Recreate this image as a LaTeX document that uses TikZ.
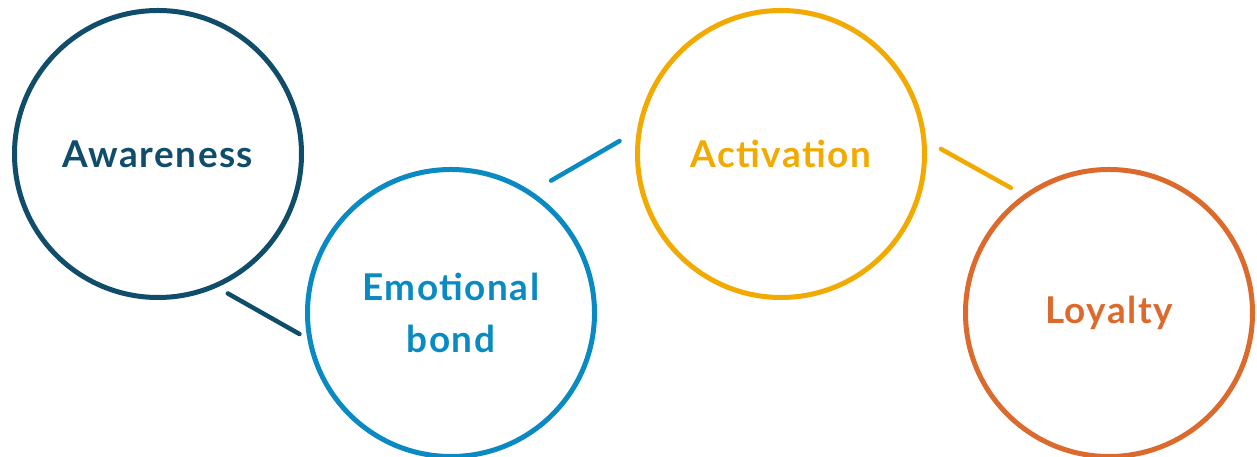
\documentclass[tikz,border=0pt]{standalone}
\usepackage{fontspec}
\setmainfont{Lato}[LetterSpace=4]
\usetikzlibrary{calc}
\definecolor{stAware}{HTML}{0F4D6B}
\definecolor{stBond}{HTML}{0A8AC2}
\definecolor{stActive}{HTML}{F2AA00}
\definecolor{stLoyal}{HTML}{DB6A2C}
\tikzset{
  stage/.style = {circle, draw=#1, text=#1, line width=1mm,
                  minimum size=57.4mm, inner sep=0pt, align=center,
                  font=\fontsize{21}{30}\selectfont\bfseries},
  link/.style  = {#1, line width=0.9mm, line cap=round},
}

\begin{document}
\begin{tikzpicture}[x=0.2mm, y=0.2mm]
  \useasboundingbox (0,0) rectangle (1257,457);

  % the four stages, zig-zagging up and down
  \node[stage=stAware]  (aware)  at (158,303)  {Awareness};
  \node[stage=stBond]   (bond)   at (451,144)  {Emotional\\bond};
  \node[stage=stActive] (active) at (781,303)  {Activation};
  \node[stage=stLoyal]  (loyal)  at (1109,144) {Loyalty};

  % short links in the gaps between neighbouring circles
  \draw[link=stAware]  ($(aware)+(-63.4:156)$) -- ($(bond)+(187.9:153)$);
  \draw[link=stBond]   ($(bond)+(52.9:166)$)   -- ($(active)+(175.4:162)$);
  \draw[link=stActive] ($(active)+(1.8:160)$)  -- ($(loyal)+(128.1:159)$);
\end{tikzpicture}
\end{document}
